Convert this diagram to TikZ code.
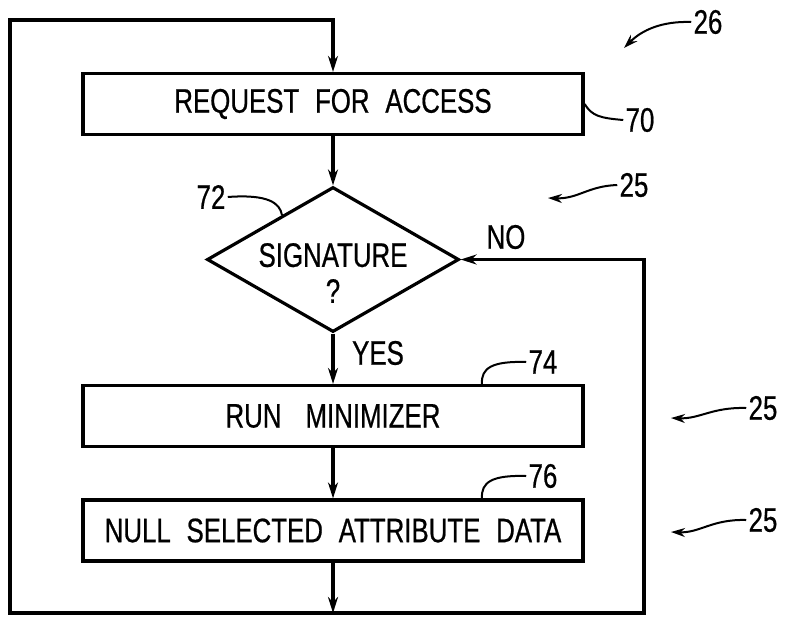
\documentclass[tikz,border=0pt]{standalone}
\usepackage{fontspec}
\setmainfont{Liberation Sans}[FakeStretch=0.76,WordSpace=2.2,FakeBold=0.6]
\usetikzlibrary{shapes.geometric,arrows.meta,calc}

\tikzstyle{process} = [rectangle, minimum width=250pt, minimum height=30.5pt, text centered, draw=black, line width=1.6pt, inner sep=0pt]
\tikzstyle{decision} = [diamond, aspect=1.74, minimum width=126pt, minimum height=72.5pt, draw=black, line width=1.6pt, inner sep=0pt]
\tikzstyle{numeral} = [inner sep=1pt]
\tikzstyle{arrow} = [line width=1.6pt,->,>={Stealth[length=8pt,width=5pt]}]
\tikzstyle{leader} = [line width=1pt]
\tikzstyle{pointer} = [line width=1pt,->,>={Stealth[length=7pt,width=4.5pt]}]

\begin{document}
\begin{tikzpicture}[x=0.5pt, y=-0.5pt, font=\fontsize{17pt}{18pt}\selectfont]
        \useasboundingbox (0,0) rectangle (785,616);

        \node (request) [process] at (333,104) {REQUEST FOR ACCESS};
        \node (signature) [decision] at (333,259.5) {};
        \node (signaturetext) [align=center, inner sep=0pt] at (333,273) {SIGNATURE\\?};
        \node (minimizer) [process] at (333,416) {RUN\hspace{12pt}MINIMIZER};
        \node (nulldata) [process] at (333,530.5) {NULL SELECTED ATTRIBUTE DATA};

        \node (yes) at (378,353) {YES};
        \node (no) at (506,237) {NO};

        \coordinate (tl) at (10,20);
        \coordinate (bl) at (10,613);
        \coordinate (br) at (644,613);

        \draw [arrow] (request.south) -- (signature.north);
        \draw [arrow] (signature.south) -- (minimizer.north);
        \draw [arrow] (minimizer.south) -- (nulldata.north);
        \draw [arrow] (nulldata.south) -- (nulldata.south |- bl);
        \draw [arrow,<->] (signature.east) -| (br) -- (bl) -- (tl) -| (request.north);

        % reference numerals
        \node (n26) [numeral] at (708,22) {26};
        \node (n70) [numeral] at (640,120) {70};
        \node (n25a) [numeral] at (634,185) {25};
        \node (n72) [numeral] at (211,197) {72};
        \node (n74) [numeral] at (543,362) {74};
        \node (n76) [numeral] at (543,476) {76};
        \node (n25b) [numeral] at (763,408) {25};
        \node (n25c) [numeral] at (763,520) {25};

        \coordinate (t26) at (624,48);
        \coordinate (t25a) at (548,198);
        \coordinate (t25b) at (671,418);
        \coordinate (t25c) at (671,532);

        \draw [pointer] (n26.west) .. controls (662,21) and (642,30) .. (t26);
        \draw [pointer] (n25a.west) .. controls (588,186) and (578,199) .. (t25a);
        \draw [pointer] (n25b.west) .. controls (712,407) and (700,419) .. (t25b);
        \draw [pointer] (n25c.west) .. controls (712,519) and (700,533) .. (t25c);

        \draw [leader] (request.east) .. controls (592,116) and (600,118) .. (n70.west);
        \draw [leader] (n72.east) .. controls (268,194) and (280,203) .. ($(signature.west)!0.6!(signature.north)$);
        \draw [leader] ($(minimizer.north west)!0.796!(minimizer.north east)$) .. controls (481,368) and (492,361) .. (n74.west);
        \draw [leader] ($(nulldata.north west)!0.796!(nulldata.north east)$) .. controls (481,482) and (492,475) .. (n76.west);
    \end{tikzpicture}
\end{document}
